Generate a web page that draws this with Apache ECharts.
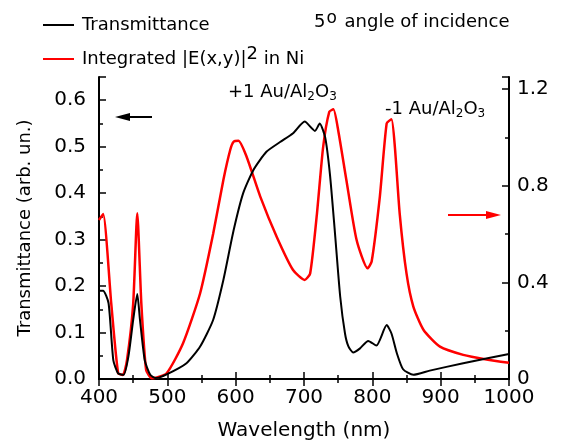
<!DOCTYPE html>
<html>
<head>
<meta charset="utf-8">
<script src="https://cdn.jsdelivr.net/npm/echarts@6/dist/echarts.min.js"></script>
<style>html,body{margin:0;padding:0;background:#fff}#c{width:571px;height:447px}</style>
</head>
<body>
<div id="c"></div>
<script>
// Transmittance (left axis)
const transWl = [400,406,414,421,428,436,443,450,456,460,467,475,483,499,528,548,567,582,597,611,626,645,665,684,701,716,723,731,738,745,753,760,765,772,782,794,806,821,828,836,845,860,884,933,1000];
const transVal = [0.19,0.19,0.163,0.04,0.012,0.009,0.048,0.127,0.183,0.127,0.04,0.009,0.002,0.01,0.034,0.07,0.127,0.213,0.32,0.40,0.45,0.489,0.51,0.529,0.554,0.534,0.55,0.52,0.44,0.32,0.177,0.098,0.07,0.057,0.066,0.082,0.072,0.116,0.098,0.055,0.021,0.009,0.018,0.034,0.054];
// Integrated |E|^2 in Ni (right axis)
const fieldWl = [400,406,418,428,435,441,450,456,462,469,477,479,499,523,548,567,582,592,597,604,616,636,660,684,701,709,719,728,737,743,750,762,777,793,799,811,821,828,833,840,850,860,875,899,933,967,1000];
const fieldVal = [0.658,0.683,0.31,0.024,0.017,0.079,0.31,0.686,0.31,0.037,0.003,0.003,0.024,0.148,0.355,0.60,0.824,0.948,0.982,0.986,0.92,0.755,0.589,0.451,0.41,0.437,0.686,0.96,1.106,1.116,1.03,0.824,0.575,0.458,0.486,0.755,1.058,1.075,0.96,0.686,0.437,0.30,0.203,0.134,0.10,0.081,0.067];

const xTicks = [400,500,600,700,800,900,1000];
const leftTicks = [0,0.1,0.2,0.3,0.4,0.5,0.6];
const rightTicks = [0,0.4,0.8,1.2];

const FONT = 'DejaVu Sans';
const chart = echarts.init(document.getElementById('c'), null, {renderer:'canvas'});
const pair = (a,b)=>a.map((v,i)=>[v,b[i]]);

const axisLineStyle = {color:'#000', width:2};
chart.setOption({
  animation:false,
  backgroundColor:'#fff',
  textStyle:{fontFamily:FONT},
  grid:{left:99, right:62, top:77, bottom:68, containLabel:false},
  legend:{
    orient:'vertical', left:38, top:11, itemGap:11, itemWidth:31, itemHeight:2, icon:'rect',
    data:['Transmittance','Integrated'],
    textStyle:{fontFamily:FONT, fontSize:18, color:'#000', padding:[0,0,0,3],
      rich:{n:{fontFamily:FONT,fontSize:18,color:'#000'}, sup:{fontFamily:FONT,fontSize:18,color:'#000',verticalAlign:'bottom',padding:[0,0,10,0]}}},
    formatter:function(name){ return name==='Integrated' ? '{n|Integrated |E(x,y)|}{sup|2}{n| in Ni}' : name; }
  },
  xAxis:[{
    type:'value', min:400, max:1000, interval:100, position:'bottom',
    name:'Wavelength (nm)', nameLocation:'middle', nameGap:42,
    nameTextStyle:{fontFamily:FONT, fontSize:20, color:'#000'},
    axisLine:{lineStyle:axisLineStyle},
    axisTick:{inside:true, length:7, lineStyle:{color:'#000', width:1.5}},
    minorTick:{show:true, splitNumber:2, length:4, lineStyle:{color:'#000', width:1.5}},
    axisLabel:{fontFamily:FONT, fontSize:20, color:'#000', margin:9, formatter:v=>String(v)},
    splitLine:{show:false}
  },{
    type:'value', min:400, max:1000, interval:100, position:'top',
    axisLine:{lineStyle:axisLineStyle},
    axisTick:{inside:true, length:7, lineStyle:{color:'#000', width:1.5}},
    minorTick:{show:true, splitNumber:2, length:4, lineStyle:{color:'#000', width:1.5}},
    axisLabel:{show:false}, splitLine:{show:false}
  }],
  yAxis:[{
    type:'value', min:0, max:0.65, interval:0.1, position:'left',
    name:'Transmittance (arb. un.)', nameLocation:'middle', nameGap:65,
    nameTextStyle:{fontFamily:FONT, fontSize:18, color:'#000'},
    axisLine:{show:true, lineStyle:axisLineStyle},
    axisTick:{show:true, inside:true, length:7, lineStyle:{color:'#000', width:1.5}},
    minorTick:{show:true, splitNumber:2, length:4, lineStyle:{color:'#000', width:1.5}},
    axisLabel:{fontFamily:FONT, fontSize:20, color:'#000', margin:13, showMaxLabel:false,
      formatter:v=>v.toFixed(1)},
    splitLine:{show:false}
  },{
    type:'value', min:0, max:1.25, interval:0.4, position:'right',
    axisLine:{show:true, lineStyle:axisLineStyle},
    axisTick:{show:true, inside:true, length:7, lineStyle:{color:'#000', width:1.5}},
    minorTick:{show:true, splitNumber:2, length:4, lineStyle:{color:'#000', width:1.5}},
    axisLabel:{fontFamily:FONT, fontSize:20, color:'#000', margin:8, showMaxLabel:false,
      formatter:v=> v===0 ? '0' : String(Math.round(v*10)/10)},
    splitLine:{show:false}
  }],
  series:[{
    name:'Transmittance', type:'line', xAxisIndex:0, yAxisIndex:0,
    data:pair(transWl, transVal), showSymbol:false, smooth:0.2,
    lineStyle:{color:'#000', width:2}, itemStyle:{color:'#000'}, z:3
  },{
    name:'Integrated', type:'line', xAxisIndex:0, yAxisIndex:1,
    data:pair(fieldWl, fieldVal), showSymbol:false, smooth:0.2,
    lineStyle:{color:'#ff0000', width:2.5}, itemStyle:{color:'#ff0000'}, z:2
  }],
  graphic:[
    {type:'text', left:314, top:10, style:{
      text:'{n|5}{sup|o}{n| angle of incidence}', fill:'#000',
      rich:{n:{fontFamily:FONT,fontSize:18,fill:'#000'}, sup:{fontFamily:FONT,fontSize:17,fill:'#000',verticalAlign:'bottom',padding:[0,2,8,1]}}}},
    {type:'text', left:228, top:83, style:{
      text:'{n|+1 Au/Al}{sub|2}{n|O}{sub|3}', fill:'#000',
      rich:{n:{fontFamily:FONT,fontSize:18,fill:'#000'}, sub:{fontFamily:FONT,fontSize:12,fill:'#000',verticalAlign:'top',padding:[10,0,0,0]}}}},
    {type:'text', left:385, top:100, style:{
      text:'{n|-1 Au/Al}{sub|2}{n|O}{sub|3}', fill:'#000',
      rich:{n:{fontFamily:FONT,fontSize:18,fill:'#000'}, sub:{fontFamily:FONT,fontSize:12,fill:'#000',verticalAlign:'top',padding:[10,0,0,0]}}}},
    {type:'line', shape:{x1:126, y1:117, x2:152, y2:117}, style:{stroke:'#000', lineWidth:2}},
    {type:'polygon', shape:{points:[[115,117],[130,113],[130,121]]}, style:{fill:'#000'}},
    {type:'line', shape:{x1:448, y1:215, x2:490, y2:215}, style:{stroke:'#ff0000', lineWidth:2}},
    {type:'polygon', shape:{points:[[501,215],[486,211],[486,219]]}, style:{fill:'#ff0000'}}
  ]
});
</script>
</body>
</html>
